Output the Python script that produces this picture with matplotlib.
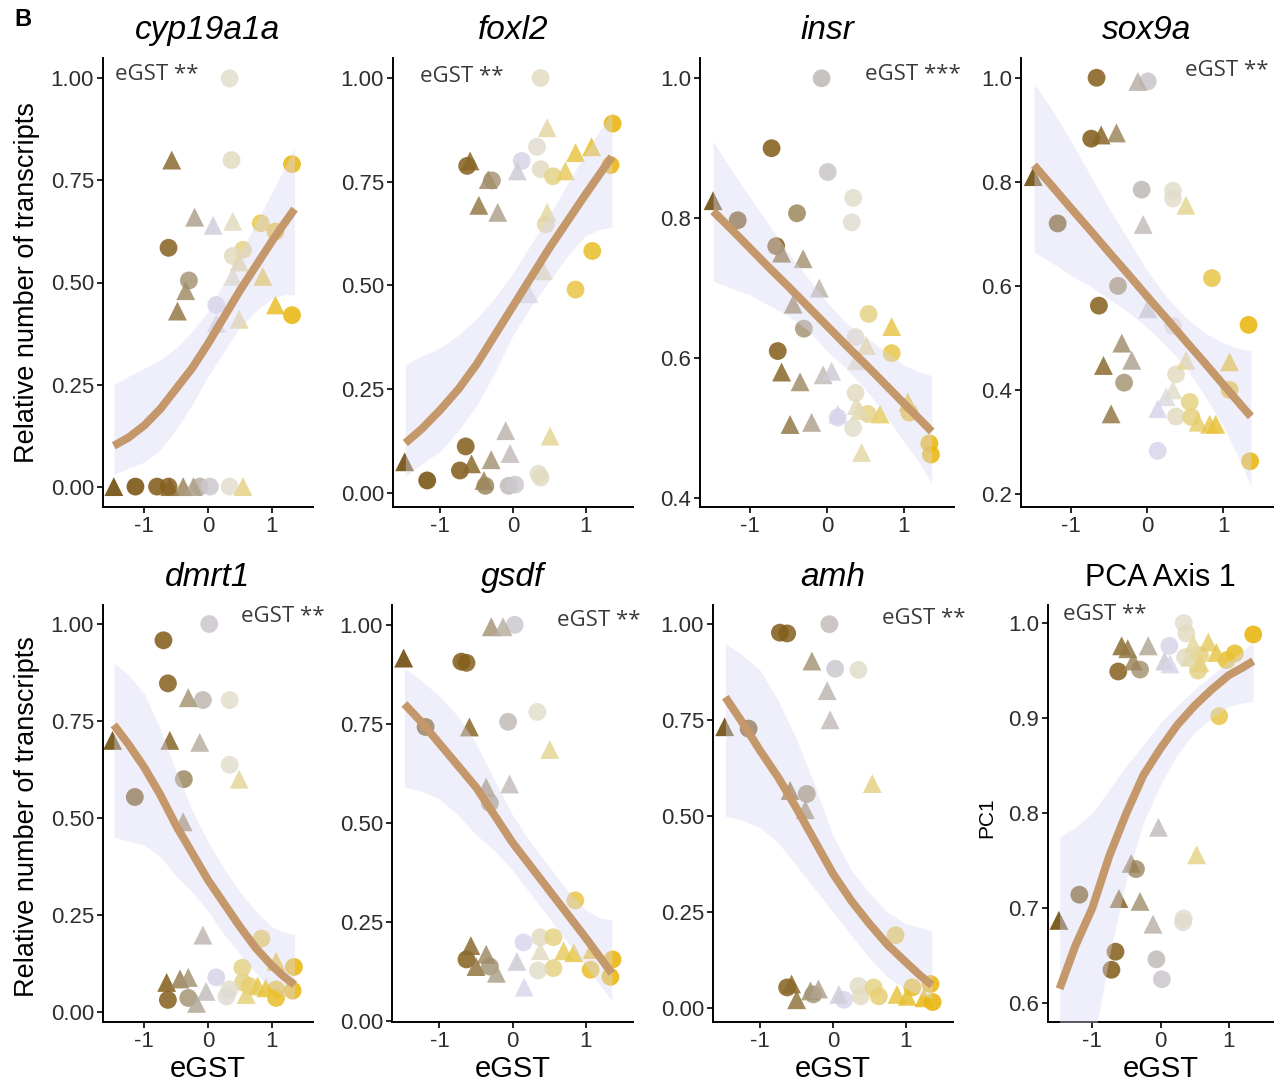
import numpy as np
import matplotlib
matplotlib.use("Agg")
import matplotlib.pyplot as plt
from matplotlib.colors import LinearSegmentedColormap

plt.rcParams["font.family"] = ["Liberation Sans", "DejaVu Sans"]

# ---- data (x = eGST, y = response) ----
# shapes: "o" circle, "^" triangle
cyp_x = [0.34, -0.57, 0.37, 1.32, -0.21, 0.08, 0.39, 0.83, 1.06, -0.62, 0.55, 0.39, 0.49, -0.30, -0.35, 0.39, 0.86,
         -0.48, 0.13, 0.13, 0.49, 1.06, 1.32, -1.48, -1.14, -0.80, -0.62, -0.60, -0.39, -0.23, -0.13, 0.03, 0.34, 0.55]
cyp_y = [1.00, 0.80, 0.80, 0.79, 0.66, 0.64, 0.65, 0.645, 0.625, 0.585, 0.58, 0.565, 0.55, 0.505, 0.48, 0.515, 0.515,
         0.43, 0.445, 0.40, 0.41, 0.445, 0.42, 0, 0, 0, 0, 0, 0, 0, 0, 0, 0, 0]
cyp_m = "o^oo^^^ooooo^o^^^^o^^^o^ooo^^^ooo^"

fox_x = [0.38, 0.47, 1.37, 0.33, 0.86, 1.08, 0.12, 0.06, 0.38, 0.72, 0.55, 1.34, -0.59, -0.63, -0.34, -0.29, -0.47,
         -0.21, 0.47, 0.45, 1.09, 0.42, 0.86, 0.22, -1.49, -1.18, -0.65, -0.73, -0.57, -0.30, -0.40, -0.38, -0.10,
         -0.04, -0.06, 0.03, 0.35, 0.38, 0.51]
fox_y = [1.00, 0.88, 0.89, 0.834, 0.82, 0.834, 0.80, 0.776, 0.78, 0.776, 0.763, 0.79, 0.80, 0.788, 0.755, 0.753, 0.693,
         0.676, 0.676, 0.647, 0.583, 0.535, 0.49, 0.48, 0.075, 0.03, 0.112, 0.054, 0.07, 0.08, 0.03, 0.017, 0.15,
         0.095, 0.017, 0.02, 0.046, 0.037, 0.137]
fox_m = "o^oo^^o^o^oo^o^o^^^oo^o^^ooo^^^o^^oooo^"

insr_x = [-0.07, -0.72, 0.01, 0.34, 0.32, -1.48, -1.16, -0.39, -0.66, -0.59, -0.31, -0.10, -0.44, -0.30, 0.54, 0.84,
          0.37, 0.51, 0.84, 0.38, -0.64, -0.59, -0.35, -0.05, 0.06, 0.37, 0.38, 0.14, 0.14, 0.42, 0.53, 0.69, 0.34,
          -0.48, -0.20, 1.05, 1.07, 0.45, 1.33, 1.35]
insr_y = [1.00, 0.90, 0.866, 0.829, 0.794, 0.825, 0.797, 0.807, 0.76, 0.75, 0.742, 0.70, 0.677, 0.642, 0.663, 0.645,
          0.63, 0.618, 0.607, 0.596, 0.61, 0.58, 0.566, 0.576, 0.581, 0.55, 0.532, 0.52, 0.515, 0.525, 0.52, 0.52, 0.50,
          0.505, 0.508, 0.537, 0.522, 0.465, 0.478, 0.462]
insr_m = "ooooo^ooo^^^^oo^o^o^o^^^^o^^o^o^o^^^o^oo"

sox_x = [-0.66, -0.12, 0.01, -0.73, -0.60, -0.40, -1.49, -0.07, 0.34, 0.34, 0.51, -0.05, -1.17, -0.38, 0.85, -0.63,
         0.01, 0.34, 1.33, -0.33, -0.20, -0.57, 0.51, 1.08, 0.38, -0.30, 0.34, 1.08, 0.25, 0.14, 0.56, -0.47, 0.38,
         0.58, 0.67, 0.82, 0.90, 0.14, 1.35]
sox_y = [1.00, 0.993, 0.993, 0.883, 0.89, 0.894, 0.81, 0.785, 0.783, 0.768, 0.755, 0.718, 0.72, 0.60, 0.615, 0.562,
         0.556, 0.523, 0.525, 0.49, 0.457, 0.447, 0.457, 0.454, 0.43, 0.414, 0.40, 0.40, 0.387, 0.364, 0.377, 0.354,
         0.349, 0.348, 0.338, 0.334, 0.334, 0.283, 0.263]
sox_m = "o^oo^^^ooo^^oooo^oo^^^^^oo^o^^o^oo^^^oo"

dmrt_x = [0.02, -0.70, -0.63, -0.31, -0.08, 0.34, -1.50, -0.60, -0.13, 0.34, 0.49, -0.38, -1.15, -0.39, -0.08, 0.84,
          1.07, 0.54, 1.35, 0.13, -0.65, -0.44, -0.31, 0.55, 0.65, 0.78, 0.91, 1.07, 1.33, 0.34, -0.03, -0.63, -0.31,
          -0.18, 0.29, 1.07, 0.60]
dmrt_y = [1.00, 0.958, 0.847, 0.81, 0.804, 0.804, 0.70, 0.70, 0.695, 0.637, 0.60, 0.60, 0.554, 0.49, 0.198, 0.189,
          0.13, 0.114, 0.116, 0.089, 0.076, 0.085, 0.089, 0.076, 0.067, 0.067, 0.062, 0.058, 0.055, 0.058, 0.053,
          0.031, 0.036, 0.022, 0.04, 0.036, 0.045]
dmrt_m = "ooo^oo^^^o^oo^^o^ooo^^^oo^^ooo^oo^oo^"

gsdf_x = [-1.49, -0.29, -0.13, 0.03, -0.70, -0.63, 0.34, -0.06, -1.19, -0.59, 0.51, -0.36, -0.04, -0.31, 0.86, -0.57,
          -0.36, -0.63, -0.50, -0.31, -0.22, 0.15, 0.38, 0.56, 0.38, 0.70, 0.84, 1.09, 1.37, 0.06, 0.56, 0.35, 1.07,
          1.34, 0.16]
gsdf_y = [0.916, 0.995, 0.995, 1.00, 0.907, 0.904, 0.78, 0.755, 0.742, 0.742, 0.685, 0.59, 0.598, 0.55, 0.304, 0.19,
          0.168, 0.155, 0.137, 0.137, 0.12, 0.198, 0.211, 0.211, 0.177, 0.177, 0.172, 0.18, 0.155, 0.15, 0.133, 0.127,
          0.129, 0.111, 0.085]
gsdf_m = "^^^oooooo^^^^oo^^o^o^ooo^^^^o^oooo^"

amh_x = [-0.05, -0.73, -0.63, -0.29, 0.03, 0.35, -0.08, -0.04, -1.49, -1.16, -0.59, -0.36, -0.38, 0.54, 0.86, -0.63,
         -0.57, -0.50, -0.31, -0.20, -0.27, 0.08, 0.15, 0.35, 0.38, 0.56, 0.63, 0.88, 1.02, 1.09, 1.34, 1.37, 1.25]
amh_y = [1.00, 0.978, 0.976, 0.904, 0.884, 0.881, 0.827, 0.751, 0.733, 0.728, 0.567, 0.558, 0.517, 0.585, 0.19, 0.054,
         0.063, 0.022, 0.045, 0.05, 0.036, 0.036, 0.022, 0.058, 0.031, 0.054, 0.031, 0.036, 0.031, 0.054, 0.063, 0.016,
         0.027]
amh_m = "ooo^oo^^^o^o^^oo^^^^o^ooooo^^ooo^"

pca_x = [0.34, 1.36, 0.70, -0.57, -0.48, -0.18, 0.13, 0.38, 0.48, 0.82, 1.09, 0.06, 0.14, 0.36, 0.43, 0.58, 0.58,
         0.55, 0.97, -0.40, -0.30, -0.62, 0.86, -0.03, 0.53, -0.43, -0.36, -1.19, -0.61, -0.30, -1.49, -0.11, 0.34,
         0.33, -0.66, -0.72, -0.06, 0.02]
pca_y = [1.00, 0.988, 0.98, 0.976, 0.973, 0.976, 0.976, 0.989, 0.978, 0.969, 0.968, 0.96, 0.957, 0.964, 0.964, 0.966,
         0.958, 0.95, 0.961, 0.96, 0.951, 0.949, 0.902, 0.785, 0.756, 0.747, 0.741, 0.714, 0.71, 0.707, 0.687, 0.683,
         0.689, 0.685, 0.654, 0.635, 0.646, 0.625]
pca_m = "oo^^^^oo^^o^^o^o^oo^ooo^^^oo^^^^oooooo"

# fitted curves and their confidence bands, read at these eGST values
fit_x = [-1.48, -1.25, -1.0, -0.75, -0.5, -0.25, 0.0, 0.25, 0.5, 0.75, 1.0, 1.2, 1.36]
cyp_fit = [0.10, 0.12, 0.15, 0.19, 0.24, 0.29, 0.35, 0.415, 0.48, 0.54, 0.60, 0.645, 0.68]
cyp_lo = [0.03, 0.045, 0.06, 0.09, 0.14, 0.20, 0.27, 0.33, 0.39, 0.43, 0.46, 0.47, 0.47]
cyp_hi = [0.25, 0.27, 0.29, 0.31, 0.34, 0.38, 0.43, 0.50, 0.57, 0.645, 0.72, 0.78, 0.83]
fox_fit = [0.12, 0.155, 0.20, 0.25, 0.31, 0.38, 0.45, 0.52, 0.59, 0.655, 0.72, 0.77, 0.81]
fox_lo = [0.04, 0.07, 0.10, 0.15, 0.21, 0.29, 0.38, 0.45, 0.51, 0.57, 0.62, 0.635, 0.64]
fox_hi = [0.31, 0.33, 0.35, 0.38, 0.42, 0.47, 0.53, 0.60, 0.67, 0.745, 0.82, 0.875, 0.92]
insr_fit = [0.810, 0.785, 0.757, 0.729, 0.702, 0.674, 0.646, 0.618, 0.591, 0.563, 0.535, 0.513, 0.495]
insr_lo = [0.71, 0.70, 0.69, 0.675, 0.66, 0.64, 0.61, 0.585, 0.555, 0.52, 0.48, 0.45, 0.42]
insr_hi = [0.91, 0.87, 0.83, 0.79, 0.75, 0.715, 0.68, 0.65, 0.63, 0.61, 0.59, 0.58, 0.575]
sox_fit = [0.832, 0.793, 0.75, 0.708, 0.665, 0.623, 0.58, 0.538, 0.495, 0.453, 0.41, 0.376, 0.349]
sox_lo = [0.665, 0.645, 0.62, 0.60, 0.575, 0.55, 0.52, 0.485, 0.445, 0.39, 0.33, 0.27, 0.215]
sox_hi = [0.99, 0.94, 0.88, 0.815, 0.75, 0.69, 0.63, 0.58, 0.54, 0.51, 0.49, 0.48, 0.475]
dmrt_fit = [0.74, 0.69, 0.63, 0.56, 0.48, 0.41, 0.34, 0.28, 0.22, 0.165, 0.12, 0.09, 0.07]
dmrt_lo = [0.45, 0.44, 0.43, 0.40, 0.35, 0.31, 0.26, 0.20, 0.15, 0.10, 0.06, 0.04, 0.03]
dmrt_hi = [0.90, 0.87, 0.82, 0.73, 0.62, 0.52, 0.44, 0.37, 0.31, 0.26, 0.22, 0.205, 0.20]
gsdf_fit = [0.80, 0.755, 0.70, 0.645, 0.59, 0.52, 0.45, 0.39, 0.33, 0.27, 0.21, 0.16, 0.12]
gsdf_lo = [0.59, 0.58, 0.56, 0.52, 0.47, 0.43, 0.38, 0.32, 0.26, 0.20, 0.14, 0.09, 0.05]
gsdf_hi = [0.89, 0.86, 0.82, 0.77, 0.70, 0.61, 0.52, 0.45, 0.39, 0.33, 0.28, 0.26, 0.255]
amh_fit = [0.81, 0.745, 0.67, 0.60, 0.52, 0.435, 0.35, 0.28, 0.22, 0.165, 0.12, 0.085, 0.06]
amh_lo = [0.50, 0.49, 0.47, 0.43, 0.37, 0.31, 0.25, 0.19, 0.13, 0.08, 0.05, 0.035, 0.025]
amh_hi = [0.95, 0.92, 0.88, 0.80, 0.70, 0.58, 0.45, 0.36, 0.30, 0.25, 0.22, 0.21, 0.20]
pca_fit = [0.615, 0.66, 0.70, 0.755, 0.80, 0.84, 0.868, 0.893, 0.913, 0.93, 0.945, 0.953, 0.96]
pca_lo = [0.45, 0.50, 0.55, 0.65, 0.73, 0.79, 0.83, 0.862, 0.885, 0.90, 0.912, 0.916, 0.917]
pca_hi = [0.775, 0.785, 0.80, 0.825, 0.85, 0.872, 0.895, 0.913, 0.93, 0.945, 0.96, 0.97, 0.98]

titles = ["cyp19a1a", "foxl2", "insr", "sox9a", "dmrt1", "gsdf", "amh", "PCA Axis 1"]
notes = ["eGST **", "eGST **", "eGST ***", "eGST **", "eGST **", "eGST **", "eGST **", "eGST **"]
yticks_2dp = [0.0, 0.25, 0.5, 0.75, 1.0]
yticks_insr = [0.4, 0.6, 0.8, 1.0]
yticks_sox = [0.2, 0.4, 0.6, 0.8, 1.0]
yticks_pca = [0.6, 0.7, 0.8, 0.9, 1.0]
xticks = [-1, 0, 1]

# ---- layout (pixel boxes: left, top, right, bottom) ----
W, H = 1280, 1089
boxes = [(103, 58, 313, 507), (393, 58, 633, 507), (700, 58, 954, 507), (1021, 58, 1273, 507),
         (103, 605, 313, 1022), (392, 605, 633, 1022), (713, 605, 953, 1022), (1048, 605, 1273, 1022)]
ylims = [(-0.05, 1.05), (-0.034, 1.048), (0.387, 1.029), (0.175, 1.038),
         (-0.026, 1.049), (-0.003, 1.05), (-0.036, 1.05), (0.58, 1.019)]
note_pos = [(115, 75), (420, 77), (865, 74), (1185, 70), (241, 617), (557, 620), (882, 618), (1063, 615)]

panels = [
    (cyp_x, cyp_y, cyp_m, cyp_fit, cyp_lo, cyp_hi, yticks_2dp, "{:.2f}"),
    (fox_x, fox_y, fox_m, fox_fit, fox_lo, fox_hi, yticks_2dp, "{:.2f}"),
    (insr_x, insr_y, insr_m, insr_fit, insr_lo, insr_hi, yticks_insr, "{:.1f}"),
    (sox_x, sox_y, sox_m, sox_fit, sox_lo, sox_hi, yticks_sox, "{:.1f}"),
    (dmrt_x, dmrt_y, dmrt_m, dmrt_fit, dmrt_lo, dmrt_hi, yticks_2dp, "{:.2f}"),
    (gsdf_x, gsdf_y, gsdf_m, gsdf_fit, gsdf_lo, gsdf_hi, yticks_2dp, "{:.2f}"),
    (amh_x, amh_y, amh_m, amh_fit, amh_lo, amh_hi, yticks_2dp, "{:.2f}"),
    (pca_x, pca_y, pca_m, pca_fit, pca_lo, pca_hi, yticks_pca, "{:.1f}"),
]

# colour scale on eGST: brown -> grey/lavender -> gold
stops = [(-1.5, "#684400"), (-0.65, "#835d18"), (-0.3, "#a69678"), (0.0, "#c8c3c6"), (0.15, "#d9d7ee"),
         (0.35, "#e2ddcc"), (0.55, "#e6d386"), (0.9, "#e8c43e"), (1.4, "#e9b100")]
lo_v, hi_v = stops[0][0], stops[-1][0]
cmap = LinearSegmentedColormap.from_list(
    "egst", [((v - lo_v) / (hi_v - lo_v), c) for v, c in stops])

fig = plt.figure(figsize=(W / 100, H / 100), dpi=100)
txt_col = "#2e2e2e"

for i, (px, py, pm, fit, lo, hi, yt, fmt) in enumerate(panels):
    assert len(px) == len(py) == len(pm)
    l, t, r, b = boxes[i]
    ax = fig.add_axes([l / W, 1 - b / H, (r - l) / W, (b - t) / H])
    px = np.array(px)
    py = np.array(py)
    marks = np.array(list(pm))
    cols = cmap(np.clip((px - lo_v) / (hi_v - lo_v), 0, 1))
    for mk, sz in (("o", 165), ("^", 185)):
        sel = marks == mk
        ax.scatter(px[sel], py[sel], s=sz, marker=mk, c=cols[sel], alpha=0.85, linewidths=0, zorder=2)
    ax.fill_between(fit_x, lo, hi, color="#d9d9f5", alpha=0.4, linewidth=0, zorder=3)
    ax.plot(fit_x, fit, color="#c4986a", lw=5.8, solid_capstyle="butt", solid_joinstyle="round", zorder=4)

    ax.set_xlim(-1.65, 1.65)
    ax.set_ylim(*ylims[i])
    ax.set_xticks(xticks)
    ax.set_xticklabels([str(v) for v in xticks])
    ax.set_yticks(yt)
    ax.set_yticklabels([fmt.format(v) for v in yt])
    for s in ("top", "right"):
        ax.spines[s].set_visible(False)
    for s in ("left", "bottom"):
        ax.spines[s].set_linewidth(1.4)
    ax.tick_params(length=4, width=1.2, pad=2.5, labelsize=16, labelcolor=txt_col)

    style = "normal" if titles[i].startswith("PCA") else "italic"
    size = 22 if style == "normal" else 24
    ax.set_title(titles[i], fontsize=size, style=style, pad=14)

    nx, ny = note_pos[i]
    fig.text(nx / W, 1 - ny / H, notes[i], fontsize=16, color="#3a3a3a", family="Open Sans",
             ha="left", va="center")

    if i >= 4:
        fig.text(((l + r) / 2) / W, 1 - 1069 / H, "eGST", fontsize=21, ha="center", va="center")

fig.text(27 / W, 1 - 283 / H, "Relative number of transcripts", rotation=90, fontsize=19.5,
         ha="center", va="center")
fig.text(27 / W, 1 - 817 / H, "Relative number of transcripts", rotation=90, fontsize=19.5,
         ha="center", va="center")
fig.text(987 / W, 1 - 818 / H, "PC1", rotation=90, fontsize=15, ha="center", va="center")
fig.text(14 / W, 1 - 20 / H, "B", fontsize=17, weight="bold", ha="left", va="center")

fig.savefig("out.png", dpi=100, facecolor="white")
